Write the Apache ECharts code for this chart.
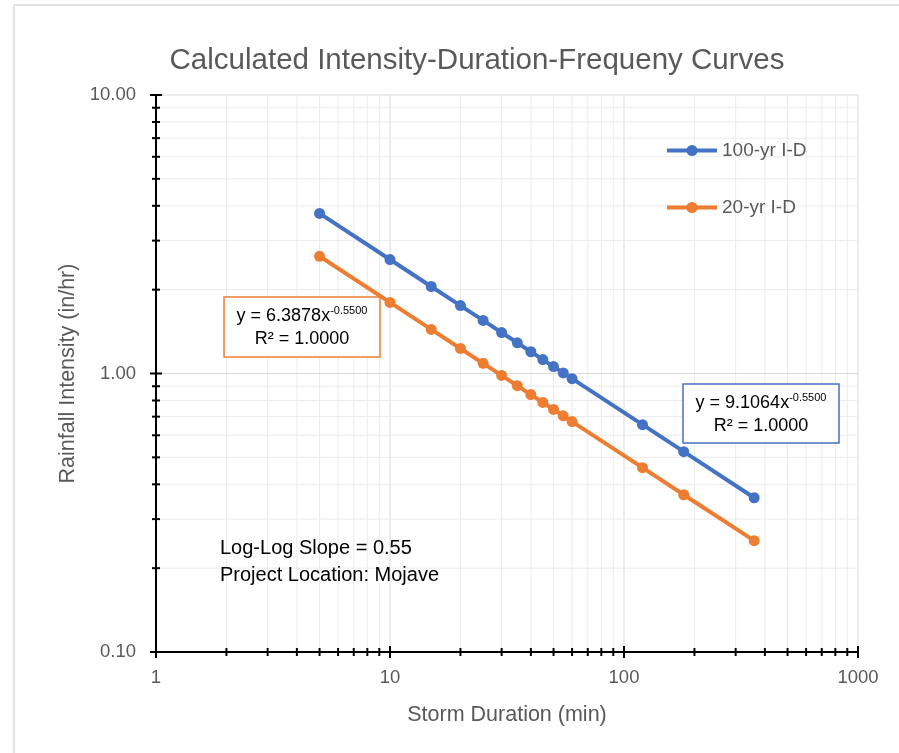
<!DOCTYPE html>
<html>
<head>
<meta charset="utf-8">
<script src="https://cdn.jsdelivr.net/npm/echarts@6/dist/echarts.min.js"></script>
<style>
  html, body { margin: 0; padding: 0; background: #fff; }
  #main { width: 899px; height: 753px; }
</style>
</head>
<body>
<div id="main"></div>
<script>
// storm durations (min) and intensities (in/hr)
var durations = [5, 10, 15, 20, 25, 30, 35, 40, 45, 50, 55, 60, 120, 180, 360];
var intensity100 = [3.757, 2.566, 2.053, 1.753, 1.551, 1.403, 1.289, 1.197, 1.122, 1.059, 1.005, 0.958, 0.655, 0.524, 0.358];
var intensity20 = [2.636, 1.800, 1.440, 1.230, 1.088, 0.984, 0.904, 0.840, 0.787, 0.743, 0.705, 0.672, 0.459, 0.367, 0.251];

// tick positions on the log axes
var xMajor = [1, 10, 100, 1000];
var xMinor = [2, 3, 4, 5, 6, 7, 8, 9, 20, 30, 40, 50, 60, 70, 80, 90, 200, 300, 400, 500, 600, 700, 800, 900];
var yMajor = [0.1, 1, 10];
var yMinor = [0.2, 0.3, 0.4, 0.5, 0.6, 0.7, 0.8, 0.9, 2, 3, 4, 5, 6, 7, 8, 9];

var FONT = 'Liberation Sans';
var GRAY = '#595959';

function pairs(xs, ys) {
  var out = [];
  for (var i = 0; i < xs.length; i++) out.push([xs[i], ys[i]]);
  return out;
}

// vertical grid line + crossing tick on the x axis
function xGridItem(params, api) {
  var v = api.value(0);
  var top = api.coord([v, 10]);
  var bot = api.coord([v, 0.1]);
  var major = xMajor.indexOf(v) >= 0;
  var t = major ? 6 : 4;
  var kids = [];
  if (v !== 1) {
    kids.push({ type: 'line', shape: { x1: top[0], y1: top[1], x2: bot[0], y2: bot[1] },
      style: { stroke: major ? '#d9d9d9' : '#ebebeb', lineWidth: 1 } });
  }
  kids.push({ type: 'line', shape: { x1: bot[0], y1: bot[1] - t, x2: bot[0], y2: bot[1] + t },
    style: { stroke: '#000', lineWidth: 2 } });
  return { type: 'group', children: kids };
}

// horizontal grid line + crossing tick on the y axis
function yGridItem(params, api) {
  var v = api.value(1);
  var left = api.coord([1, v]);
  var right = api.coord([1000, v]);
  var major = yMajor.indexOf(v) >= 0;
  var t = major ? 6 : 4;
  var kids = [];
  if (v !== 0.1) {
    kids.push({ type: 'line', shape: { x1: left[0], y1: left[1], x2: right[0], y2: right[1] },
      style: { stroke: major ? '#d9d9d9' : '#ebebeb', lineWidth: 1 } });
  }
  kids.push({ type: 'line', shape: { x1: left[0] - t, y1: left[1], x2: left[0] + t, y2: left[1] },
    style: { stroke: '#000', lineWidth: 2 } });
  return { type: 'group', children: kids };
}

var richEq = {
  m: { fontFamily: FONT, fontSize: 18, color: GRAY, lineHeight: 23 },
  s: { fontFamily: FONT, fontSize: 11, color: GRAY, lineHeight: 12, verticalAlign: 'top' }
};

var chart = echarts.init(document.getElementById('main'), null, { renderer: 'canvas' });

var option = {
  backgroundColor: '#fff',
  animation: false,
  title: {
    text: 'Calculated Intensity-Duration-Frequeny Curves',
    left: 472,
    top: 41,
    textAlign: 'center',
    textStyle: { fontFamily: FONT, fontSize: 29.5, fontWeight: 'normal', color: GRAY }
  },
  legend: {
    orient: 'vertical',
    left: 660,
    top: 136,
    itemWidth: 50,
    itemHeight: 14,
    itemGap: 38,
    data: ['100-yr I-D', '20-yr I-D'],
    lineStyle: { width: 4 },
    textStyle: { fontFamily: FONT, fontSize: 19, color: GRAY }
  },
  grid: { left: 156, top: 95, width: 702, height: 557, containLabel: false },
  xAxis: {
    type: 'log',
    logBase: 10,
    min: 1,
    max: 1000,
    name: 'Storm Duration (min)',
    nameLocation: 'middle',
    nameGap: 52,
    nameTextStyle: { fontFamily: FONT, fontSize: 21.5, color: GRAY },
    axisLine: { lineStyle: { color: '#000', width: 2 } },
    axisTick: { show: false },
    splitLine: { show: false },
    axisLabel: {
      margin: 16, fontFamily: FONT, fontSize: 18.5, color: GRAY,
      formatter: function (v) { return String(Math.round(v)); }
    }
  },
  yAxis: {
    type: 'log',
    logBase: 10,
    min: 0.1,
    max: 10,
    name: 'Rainfall Intensity (in/hr)',
    nameLocation: 'middle',
    nameGap: 76,
    nameTextStyle: { fontFamily: FONT, fontSize: 21.5, color: GRAY },
    axisLine: { lineStyle: { color: '#000', width: 2 } },
    axisTick: { show: false },
    splitLine: { show: false },
    axisLabel: {
      margin: 20, fontFamily: FONT, fontSize: 18.5, color: GRAY,
      formatter: function (v) { return Number(v).toFixed(2); }
    }
  },
  series: [
    {
      type: 'custom',
      name: 'xgrid',
      silent: true,
      clip: false,
      z: 1,
      renderItem: xGridItem,
      data: xMajor.concat(xMinor).map(function (v) { return [v, 1]; })
    },
    {
      type: 'custom',
      name: 'ygrid',
      silent: true,
      clip: false,
      z: 1,
      renderItem: yGridItem,
      data: yMajor.concat(yMinor).map(function (v) { return [1, v]; })
    },
    {
      name: '100-yr I-D',
      type: 'line',
      z: 3,
      data: pairs(durations, intensity100),
      symbol: 'circle',
      symbolSize: 11,
      itemStyle: { color: '#4472C4' },
      lineStyle: { color: '#4472C4', width: 4 }
    },
    {
      name: '20-yr I-D',
      type: 'line',
      z: 3,
      data: pairs(durations, intensity20),
      symbol: 'circle',
      symbolSize: 11,
      itemStyle: { color: '#ED7D31' },
      lineStyle: { color: '#ED7D31', width: 4 }
    }
  ],
  graphic: [
    { type: 'rect', z: 100, silent: true,
      shape: { x: 14, y: 5, width: 1000, height: 1000 },
      style: { fill: null, stroke: '#d9d9d9', lineWidth: 1.5 } },
    { type: 'rect', z: 100, shape: { x: 224, y: 297, width: 156, height: 60 },
      style: { fill: '#fff', stroke: '#ED7D31', lineWidth: 1.5 } },
    { type: 'text', z: 101, x: 302, y: 305,
      style: { text: '{m|y = 6.3878x}{s|-0.5500}\n{m|R² = 1.0000}', align: 'center', rich: richEq } },
    { type: 'rect', z: 100, shape: { x: 683, y: 384, width: 156, height: 59 },
      style: { fill: '#fff', stroke: '#4472C4', lineWidth: 1.5 } },
    { type: 'text', z: 101, x: 761, y: 392,
      style: { text: '{m|y = 9.1064x}{s|-0.5500}\n{m|R² = 1.0000}', align: 'center', rich: richEq } },
    { type: 'text', z: 101, x: 220, y: 535,
      style: {
        text: 'Log-Log Slope = 0.55\nProject Location: Mojave',
        fontFamily: FONT, fontSize: 20, lineHeight: 27, fill: '#000'
      } }
  ]
};

chart.setOption(option);
</script>
</body>
</html>
